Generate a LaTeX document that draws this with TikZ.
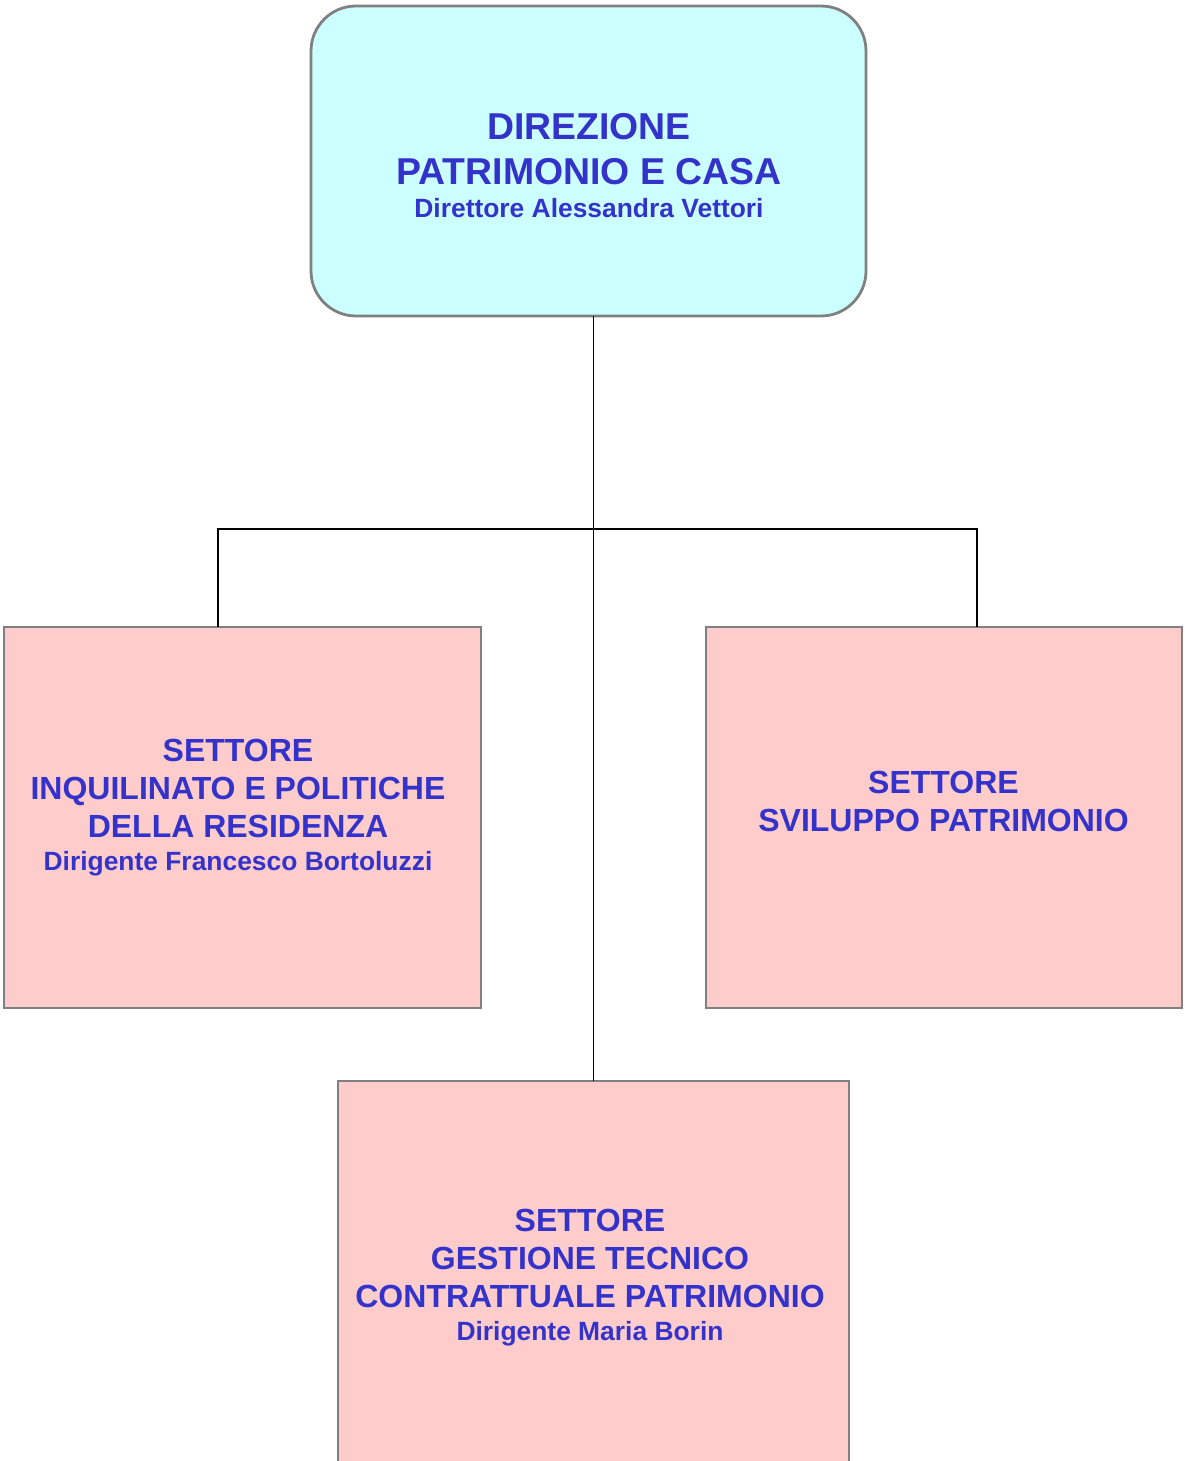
\documentclass[tikz,border=0pt]{standalone}
\usepackage{fontspec}
\setmainfont{Liberation Sans}
\usetikzlibrary{positioning}
\definecolor{azzurro}{HTML}{CCFFFF}
\definecolor{rosa}{HTML}{FFCCCC}
\definecolor{blu}{HTML}{3333CC}
\definecolor{grigio}{HTML}{808080}
\begin{document}
\begin{tikzpicture}[x=0.5pt,y=-0.5pt,line width=0.9pt,
	box/.style={draw=grigio,line width=1.4pt,inner sep=0pt,outer sep=0pt},
	settore/.style={box,fill=rosa},
	testo/.style={text=blu,align=center,inner sep=0pt,anchor=north,font=\bfseries\fontsize{16}{19}\selectfont}]
				\useasboundingbox (0,0) rectangle (1184,1461);
				\clip (0,0) rectangle (1184,1461);
				% caselle
				\node[box,fill=azzurro,rounded corners=22.5pt,minimum width=277.5pt,minimum height=155pt] (dir) at (588.5,161) {};
				\node[settore,minimum width=238.5pt,minimum height=190.5pt] (inq) at (242.5,817.5) {};
				\node[settore,minimum width=238pt,minimum height=190.5pt] (svi) at (944,817.5) {};
				\node[settore,minimum width=255.5pt,minimum height=209.5pt] (gest) at (593.5,1290.5) {};
				% testi
				\node[testo,font=\bfseries\fontsize{18.7}{22.5}\selectfont] (dirT) at (589,112) {DIREZIONE\\PATRIMONIO E CASA\\[-6pt]{\fontsize{13.2}{16}\selectfont Direttore Alessandra Vettori}};
				\node[testo] (inqT) at (238,738) {SETTORE\\INQUILINATO E POLITICHE\\DELLA RESIDENZA\\[-2.5pt]{\fontsize{13.2}{16}\selectfont Dirigente Francesco Bortoluzzi}};
				\node[testo] (sviT) at (943.5,770) {SETTORE\\SVILUPPO PATRIMONIO};
				\node[testo] (gestT) at (590,1208) {SETTORE\\GESTIONE TECNICO\\CONTRATTUALE PATRIMONIO\\[-2.5pt]{\fontsize{13.2}{16}\selectfont Dirigente Maria Borin}};
				% collegamenti
				\coordinate (ramoS) at (218,529);
				\coordinate (ramoD) at (977,529);
				\draw (gest.north) -- (gest.north |- dir.south);
				\draw (ramoS |- inq.north) -- (ramoS) -- (ramoD) -- (ramoD |- svi.north);
			\end{tikzpicture}
\end{document}
